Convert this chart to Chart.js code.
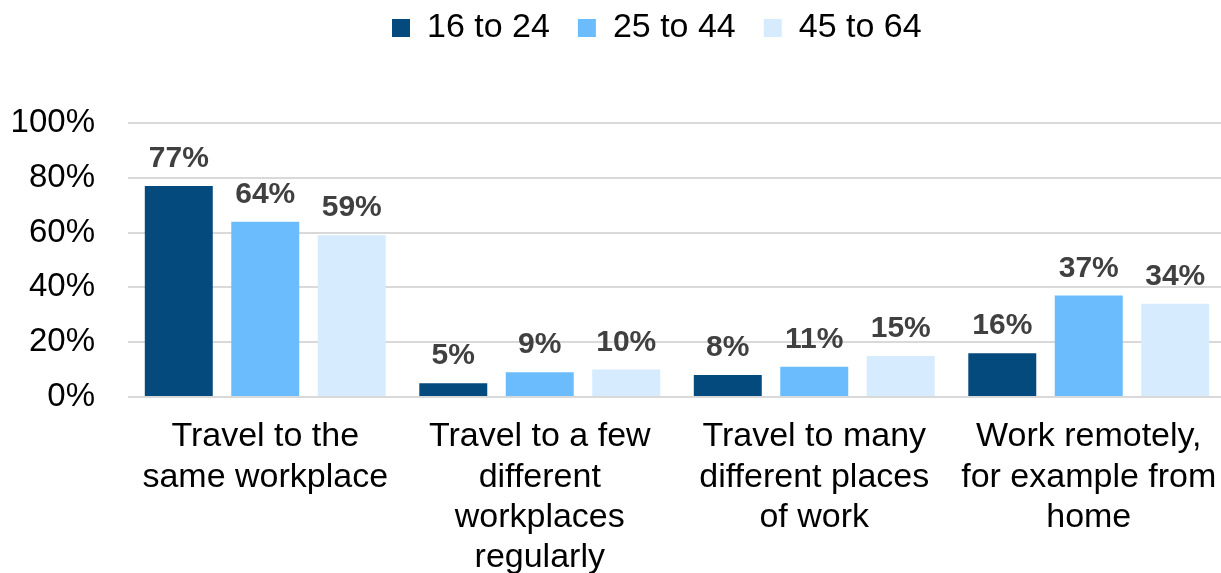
<!DOCTYPE html>
<html>
<head>
<meta charset="utf-8">
<script src="https://cdn.jsdelivr.net/npm/chart.js@4.4.1/dist/chart.umd.min.js"></script>
<style>
    html, body { margin: 0; padding: 0; background: #ffffff; overflow: hidden; }
    #wrap { width: 1260px; height: 573px; }
</style>
</head>
<body>
<div id="wrap"><canvas id="work_location" width="1260" height="573"></canvas></div>
<script>
var categories = [
    ['Travel to the', 'same workplace'],
    ['Travel to a few', 'different', 'workplaces', 'regularly'],
    ['Travel to many', 'different places', 'of work'],
    ['Work remotely,', 'for example from', 'home']
];
var age_groups = ['16 to 24', '25 to 44', '45 to 64'];
var values_16_24 = [77, 5, 8, 16];
var values_25_44 = [64, 9, 11, 37];
var values_45_64 = [59, 10, 15, 34];
var y_ticks = [0, 20, 40, 60, 80, 100];

var colors = ['#044a7c', '#6abcfd', '#d6ebfd'];

Chart.defaults.font.family = '"Liberation Sans", Arial, sans-serif';
Chart.defaults.color = '#000000';

// percentage printed above each bar
var bar_labels =
{
    id: 'bar_labels',
    afterDatasetsDraw: function (chart)
    {
        var ctx = chart.ctx;
        ctx.save();
        ctx.font = 'bold 30px "Liberation Sans", Arial, sans-serif';
        ctx.fillStyle = '#404040';
        ctx.textAlign = 'center';
        ctx.textBaseline = 'alphabetic';
        chart.data.datasets.forEach(function (ds, i)
        {
            chart.getDatasetMeta(i).data.forEach(function (bar, j)
            {
                ctx.fillText(ds.data[j] + '%', bar.x, bar.y - 19);
            });
        });
        ctx.restore();
    }
};

// fixed legend band height, and legend row placed at the top
var legend_place =
{
    id: 'legend_place',
    beforeLayout: function (chart)
    {
        var lg = chart.legend;
        if (lg && !lg.fit_patched)
        {
            var fit = lg.fit;
            lg.fit = function ()
            {
                fit.call(this);
                this.height = 123;
            };
            lg.fit_patched = true;
        }
    },
    afterLayout: function (chart)
    {
        var lg = chart.legend;
        var w = lg.right - lg.left;
        lg.left = 364;
        lg.right = lg.left + w;
        lg.top = -17;
    }
};

function create_chart()
{
    var series = [values_16_24, values_25_44, values_45_64];

    new Chart(document.getElementById('work_location'),
        {
            type: 'bar',
            data:
            {
                labels: categories,
                datasets: age_groups.map(function (name, i)
                {
                    return {
                        label: name,
                        data: series[i],
                        backgroundColor: colors[i],
                        borderWidth: 0,
                        barPercentage: 0.786,
                        categoryPercentage: 0.945
                    };
                })
            },
            options:
            {
                responsive: false,
                animation: false,
                devicePixelRatio: 1,
                layout: { padding: { left: 0, right: 34, top: 0, bottom: 0 } },
                plugins:
                {
                    legend:
                    {
                        display: true,
                        position: 'top',
                        align: 'start',
                        labels:
                        {
                            boxWidth: 18,
                            boxHeight: 18,
                            padding: 28,
                            color: '#000000',
                            font: { size: 34 }
                        }
                    },
                    tooltip: { enabled: false }
                },
                scales:
                {
                    x:
                    {
                        grid: { display: false, drawTicks: false },
                        border: { display: false },
                        ticks:
                        {
                            autoSkip: false,
                            maxRotation: 0,
                            minRotation: 0,
                            padding: 20,
                            color: '#000000',
                            font: { size: 34, lineHeight: 1.18 }
                        },
                        afterFit: function (scale) { scale.height = 176; }
                    },
                    y:
                    {
                        min: y_ticks[0],
                        max: y_ticks[y_ticks.length - 1],
                        afterBuildTicks: function (scale)
                        {
                            scale.ticks = y_ticks.map(function (v) { return { value: v }; });
                        },
                        grid: { color: '#d9d9d9', lineWidth: 2, drawTicks: false },
                        border: { display: false },
                        ticks:
                        {
                            padding: 33,
                            color: '#000000',
                            font: { size: 33 },
                            callback: function (v) { return v + '%'; }
                        },
                        afterFit: function (scale) { scale.width = 128; }
                    }
                }
            },
            plugins: [bar_labels, legend_place]
        });
}

create_chart();
</script>
</body>
</html>
